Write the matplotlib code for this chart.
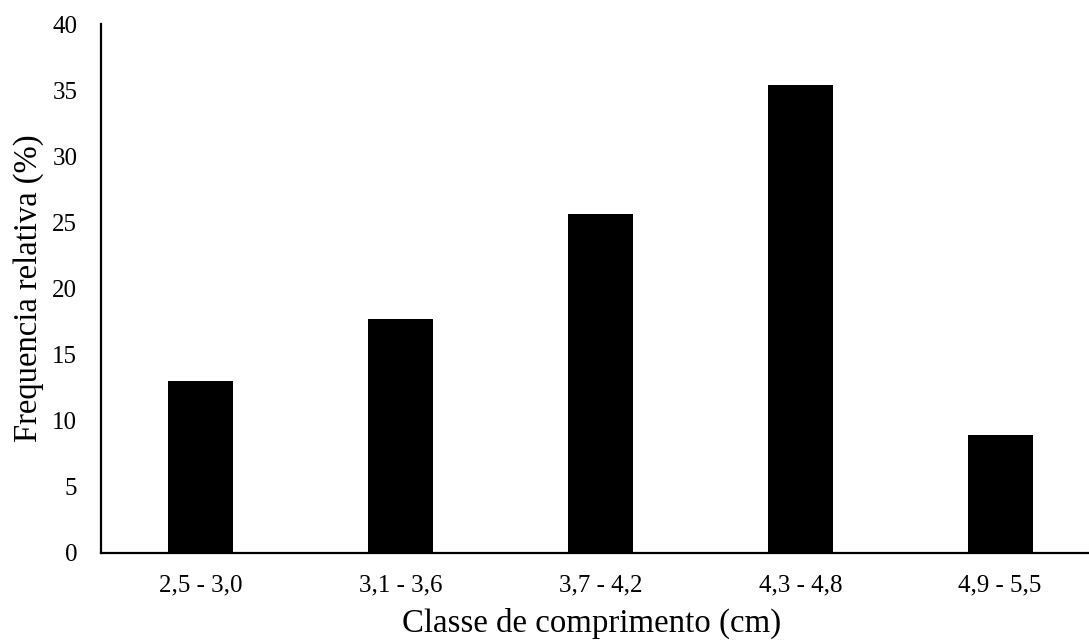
import matplotlib
matplotlib.use("Agg")
import matplotlib.pyplot as plt
import numpy as np

classes = ["2,5 - 3,0", "3,1 - 3,6", "3,7 - 4,2", "4,3 - 4,8", "4,9 - 5,5"]
freq = [13.0, 17.7, 25.6, 35.4, 8.9]
yticks = [0, 5, 10, 15, 20, 25, 30, 35, 40]

plt.rcParams['font.family'] = ['Liberation Serif', 'DejaVu Serif']

fig = plt.figure(figsize=(10.89, 6.42), dpi=100)
# axes spans -0.5..4.5 categories, right edge falls just off the figure
ax = fig.add_axes([0.0927, 0.1394, 0.9174, 0.8232])

x = np.arange(len(classes))
ax.bar(x, freq, width=0.325, color='black')

ax.set_xlim(-0.5, 4.5)
ax.set_ylim(0, 40)
ax.set_yticks(yticks)
ax.set_xticks(x)
ax.set_xticklabels(classes)
ax.tick_params(axis='both', length=0, labelsize=18)
ax.tick_params(axis='y', pad=17)
ax.tick_params(axis='x', pad=16)

for s in ['top', 'right']:
    ax.spines[s].set_visible(False)
for s in ['left', 'bottom']:
    ax.spines[s].set_linewidth(1.6)

ax.set_xlabel('Classe de comprimento (cm)', fontsize=23.7, labelpad=8)
ax.xaxis.label.set_x(0.491)  # label sits a bit left of centre in the original
ax.set_ylabel('Frequencia relativa (%)', fontsize=23.5, labelpad=6)

fig.savefig('out.png', dpi=100)
